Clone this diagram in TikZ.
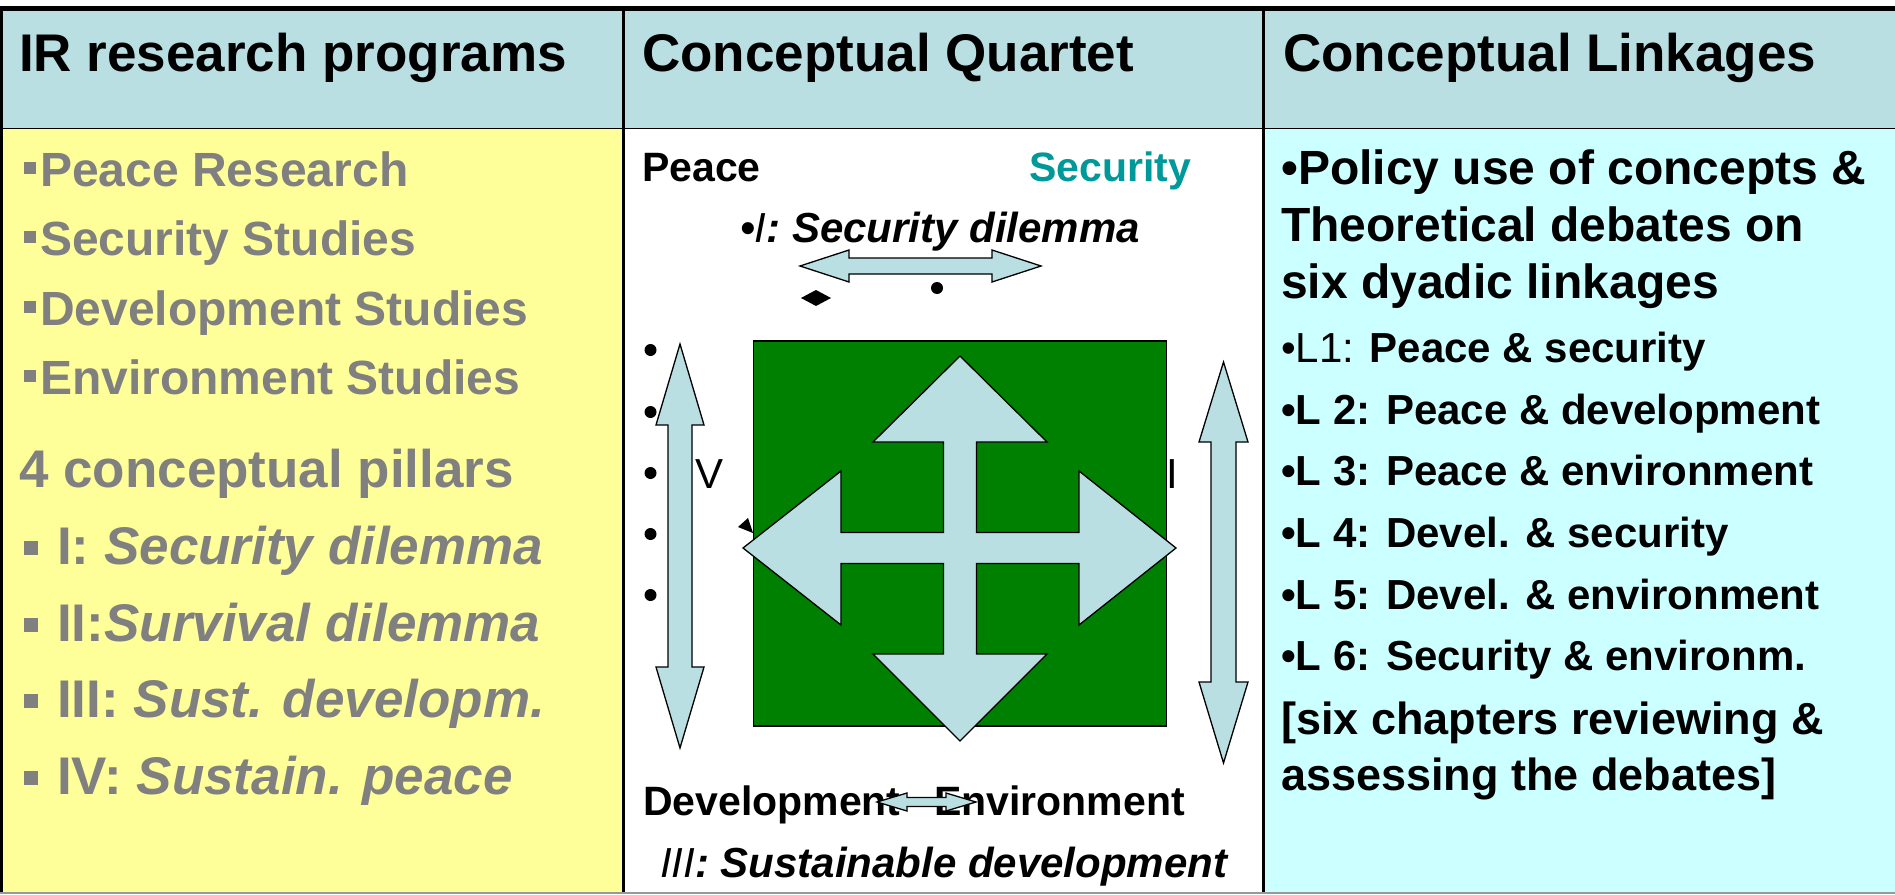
\documentclass[tikz,border=0pt]{standalone}
\usepackage{fontspec}
\setmainfont{Liberation Sans}
\usepackage{xcolor}
\usepackage{tikz}
\definecolor{hdblue}{RGB}{185,223,227}
\definecolor{progyellow}{RGB}{255,255,153}
\definecolor{linkcyan}{RGB}{204,255,255}
\definecolor{quadgreen}{RGB}{0,128,0}
\definecolor{secteal}{RGB}{0,153,153}
\definecolor{itemgray}{RGB}{128,128,128}

\begin{document}
\begin{tikzpicture}[x=1pt, y=-1pt,
      every node/.style={inner sep=0pt, anchor=base west},
      head/.style={font=\bfseries\fontsize{53}{60}\selectfont},
      prog/.style={font=\bfseries\fontsize{48}{56}\selectfont, text=itemgray},
      pillar/.style={font=\bfseries\fontsize{53}{60}\selectfont, text=itemgray},
      corner/.style={font=\bfseries\fontsize{41}{48}\selectfont},
      dilem/.style={font=\bfseries\itshape\fontsize{42}{48}\selectfont},
      policy/.style={font=\bfseries\fontsize{48}{56}\selectfont},
      link/.style={font=\bfseries\fontsize{42}{48}\selectfont},
      chap/.style={font=\bfseries\fontsize{45}{52}\selectfont},
      roman/.style={font=\fontsize{42}{48}\selectfont},
      blockarrow/.style={draw=black, fill=hdblue, line width=1.3pt, line join=miter}]
      \useasboundingbox (0,0) rectangle (1895,894);
      % table
      \fill[white] (0,0) rectangle (1895,894);
      \fill[hdblue] (0,11) rectangle (1895,128.5);
      \fill[progyellow] (0,128.5) rectangle (623.5,892);
      \fill[linkcyan] (1263.5,128.5) rectangle (1895,892);
      \draw[line width=5pt] (0,8.5) -- (1895,8.5);
      \draw[line width=1.5pt] (0,128.5) -- (1895,128.5);
      \draw[line width=2.7pt] (1.3,6) -- (1.3,892);
      \draw[line width=2.5pt] (623.5,6) -- (623.5,892);
      \draw[line width=2.5pt] (1263.5,6) -- (1263.5,892);
      \draw[line width=2pt, gray!80] (0,892.5) -- (1895,892.5);
      % headers
      \node[head] (irhead) at (19,71) {IR research programs};
      \node[head] (quarhead) at (642,71) {Conceptual Quartet};
      \node[head] (linkhead) at (1283,71) {Conceptual Linkages};
      % research programs
      \node[prog] (peaceres) at (40,186) {Peace Research};
      \node[prog] (secstud) at (40,255) {Security Studies};
      \node[prog] (devstud) at (40,325) {Development Studies};
      \node[prog] (envstud) at (40,394) {Environment Studies};
      \foreach \y in {186,255,325,394}
        \fill[itemgray] (24,\y-24) rectangle (36,\y-12);
      \node[pillar] (pillars) at (19,487) {4 conceptual pillars};
      \node[pillar] (pill1) at (57,564) {I: \textit{Security dilemma}};
      \node[pillar] (pill2) at (57,641) {II:\textit{Survival dilemma}};
      \node[pillar] (pill3) at (57,717) {III: \textit{Sust. developm.}};
      \node[pillar] (pill4) at (57,794) {IV: \textit{Sustain. peace}};
      \foreach \y in {564,641,717,794}
        \fill[itemgray] (24,\y-23) rectangle (38,\y-9);
      % conceptual quartet
      \node[corner] (peace) at (642,181) {Peace};
      \node[corner, text=secteal] (security) at (1029,181) {Security};
      \node[dilem] (secdil) at (740,242) {•{\mdseries I}: Security dilemma};
      \node[corner] (devel) at (643,815) {Development};
      \node[corner] (envir) at (934,815) {Environment};
      \node[dilem] (susdev) at (660,877) {{\mdseries III}: Sustainable development};
      \foreach \y in {350,412,473,534,595}
        \fill (650.5,\y) circle[radius=6pt];
      \fill (801,298) -- (816,290) -- (831,298) -- (816,306) -- cycle;
      \fill (937,288) circle[radius=6pt];
      \fill (738,527) -- (748,518) -- (753,533) -- cycle;
      \draw[fill=quadgreen, line width=1.3pt] (753.5,341) rectangle (1166.5,726);
      % block arrows
      \draw[blockarrow] (800,266) -- (849,250) -- (849,258) -- (992,258) -- (992,250)
        -- (1041,266) -- (992,282) -- (992,274) -- (849,274) -- (849,282) -- cycle;
      \draw[blockarrow] (680,344) -- (704,425) -- (692,425) -- (692,667) -- (704,667)
        -- (680,748) -- (656,667) -- (668,667) -- (668,425) -- (656,425) -- cycle;
      \draw[blockarrow] (1223.5,362) -- (1248,442) -- (1236,442) -- (1236,682) -- (1248,682)
        -- (1223.5,763) -- (1199,682) -- (1211,682) -- (1211,442) -- (1199,442) -- cycle;
      \draw[blockarrow] (960,356) -- (1047,442) -- (976.5,442) -- (976.5,532.5)
        -- (1079,532.5) -- (1079,471) -- (1176,548) -- (1079,625) -- (1079,563.5)
        -- (976.5,563.5) -- (976.5,654) -- (1047,654) -- (960,741) -- (873,654)
        -- (943.5,654) -- (943.5,563.5) -- (841,563.5) -- (841,625) -- (743,548)
        -- (841,471) -- (841,532.5) -- (943.5,532.5) -- (943.5,442) -- (873,442) -- cycle;
      \draw[blockarrow] (877,802) -- (907,793) -- (907,797.5) -- (946,797.5) -- (946,793)
        -- (976,802) -- (946,811) -- (946,806.5) -- (907,806.5) -- (907,811) -- cycle;
      \node[roman] (fourlbl) at (695,488) {V};
      \node[roman] (twolbl) at (1166,488) {I};
      % conceptual linkages
      \node[policy] (pol1) at (1281,184) {•Policy use of concepts \&};
      \node[policy] (pol2) at (1281,241) {Theoretical debates on};
      \node[policy] (pol3) at (1281,298) {six dyadic linkages};
      \node[link] (link1) at (1281,362) {{\mdseries •L1:} Peace \& security};
      \node[link] (link2) at (1281,424) {•L 2: Peace \& development};
      \node[link] (link3) at (1281,485) {•L 3: Peace \& environment};
      \node[link] (link4) at (1281,547) {•L 4: Devel. \& security};
      \node[link] (link5) at (1281,609) {•L 5: Devel. \& environment};
      \node[link] (link6) at (1281,670) {•L 6: Security \& environm.};
      \node[chap] (chap1) at (1281,734) {[six chapters reviewing \&};
      \node[chap] (chap2) at (1281,790) {assessing the debates]};
\end{tikzpicture}
\end{document}
